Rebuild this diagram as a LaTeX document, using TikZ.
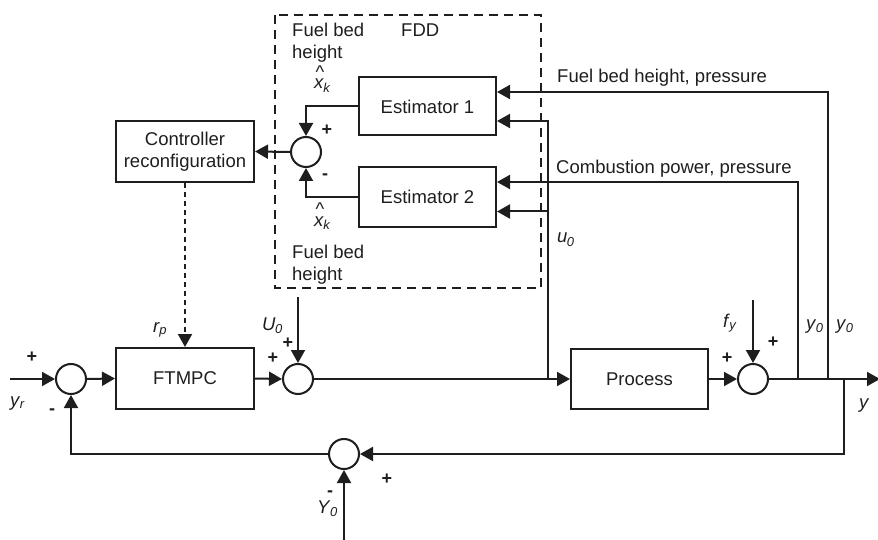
\documentclass[tikz,border=0pt]{standalone}
\usepackage{fontspec}
\setmainfont{Liberation Sans}
\usetikzlibrary{arrows.meta,calc,backgrounds}
\definecolor{loopink}{HTML}{1E1E1E}
\newcommand{\sig}[2]{\textit{#1}\textsubscript{\kern-0.5pt\textit{#2}}}
\newcommand{\xhat}{\rlap{\kern1.5pt\raisebox{10pt}{\^{}}}\sig{x}{k}}
\tikzset{
  loop block/.style={
    rectangle, draw=loopink, text=loopink, line width=2pt,
    minimum width=137pt, minimum height=60pt,
    font=\fontsize{18.5}{22}\selectfont, align=center
  },
  loop sum/.style={
    circle, draw=loopink, line width=2pt, fill=white,
    minimum size=30pt, inner sep=0pt
  },
  loop line/.style={draw=loopink, line width=2pt},
  loop arrow/.style={loop line, -{Triangle[length=13pt,width=14pt]}},
  loop label/.style={
    text=loopink, font=\fontsize{18.5}{22}\selectfont,
    align=left, inner sep=0pt, anchor=base west
  },
  loop sign/.style={text=loopink, font=\fontsize{18}{20}\selectfont\bfseries, inner sep=0pt}
}
\begin{document}
\begin{tikzpicture}[x=1pt,y=-1pt]
  \useasboundingbox (0,0) rectangle (878,540);

  % fault detection and diagnosis part
  \draw[loop line, dash pattern=on 9pt off 6pt] (275,15) rectangle (541,288);
  \node[loop block] (est1) at (427.5,106.5) [minimum height=58pt] {Estimator 1};
  \node[loop block] (est2) at (427.5,197) {Estimator 2};
  \node[loop sum] (fddsum) at (306,152) {};
  \node[loop block,minimum width=138pt,minimum height=61pt] (ctrl) at (185,151.5) {Controller\\reconfiguration};

  % main loop
  \node[loop block,minimum width=138pt,minimum height=61pt] (ftmpc) at (185,378.5) {FTMPC};
  \node[loop block] (process) at (639.5,379) {Process};
  \node[loop sum] (sref) at (71,379) {};
  \node[loop sum] (sbias) at (298,379) {};
  \node[loop sum] (sfault) at (753,379) {};
  \node[loop sum] (sout) at (344,454) {};

  \coordinate (yin) at (10,379);
  \coordinate (utop) at (298,297);
  \coordinate (ftop) at (753,300);
  \coordinate (ybot) at (344,540);
  \coordinate (yend) at (880,379);
  \coordinate (usplit) at (548,379);
  \coordinate (umid) at (548,211.5);
  \coordinate (tapcomb) at (798,379);
  \coordinate (tapfuel) at (828,379);
  \coordinate (tapback) at (844,379);

  \draw[loop arrow] (yin) -- (sref.west);
  \draw[loop arrow] (sref.east) -- (ftmpc.west);
  \draw[loop arrow] (ftmpc.east) -- (sbias.west);
  \draw[loop arrow] (utop) -- (sbias.north);
  \draw[loop arrow] (sbias.east) -- (process.west);
  \draw[loop arrow] (process.east) -- (sfault.west);
  \draw[loop arrow] (ftop) -- (sfault.north);
  \draw[loop arrow] (sfault.east) -- (yend);

  % measurements back to the estimators
  \draw[loop arrow] (tapfuel) |- ([yshift=14.5pt]est1.east);
  \draw[loop arrow] (tapcomb) |- ([yshift=15pt]est2.east);
  \draw[loop arrow] (usplit) |- ([yshift=-14.5pt]est1.east);
  \draw[loop arrow] (umid) -- ([yshift=-14.5pt]est2.east);

  \draw[loop arrow] (est1.west) -| (fddsum.north);
  \draw[loop arrow] (est2.west) -| (fddsum.south);
  \draw[loop arrow] (fddsum.west) -- (ctrl.east);
  \draw[loop arrow, dash pattern=on 5pt off 4pt] (ctrl.south) -- (ftmpc.north);

  % output feedback
  \draw[loop arrow] (tapback) |- (sout.east);
  \draw[loop arrow] (ybot) -- (sout.south);
  \draw[loop arrow] (sout.west) -| (sref.south);

  % labels
  \node[loop label] at (292,59) {Fuel bed\\height};
  \node[loop label] at (401,37) {FDD};
  \node[loop label] at (314,89) {\xhat};
  \node[loop label] at (314,226) {\xhat};
  \node[loop label] at (292,280) {Fuel bed\\height};
  \node[loop label] at (557,83) {Fuel bed height, pressure};
  \node[loop label] at (556,174) {Combustion power, pressure};
  \node[loop label] at (557,243) {\sig{u}{0}};
  \node[loop label] at (153,332) {\sig{r}{p}};
  \node[loop label] at (262,330) {\sig{U}{0}};
  \node[loop label] at (10,406) {\sig{y}{r}};
  \node[loop label] at (317,513) {\sig{Y}{0}};
  \node[loop label] at (723,327) {\sig{f}{y}};
  \node[loop label] at (806,329) {\sig{y}{0}};
  \node[loop label] at (836,329) {\sig{y}{0}};
  \node[loop label] at (859,408) {\textit{y}};

  \node[loop sign] at (327,130) {+};
  \node[loop sign] at (325,177) {-};
  \node[loop sign] at (32,357) {+};
  \node[loop sign] at (52,412) {-};
  \node[loop sign] at (288,343) {+};
  \node[loop sign] at (273,358) {+};
  \node[loop sign] at (387,479) {+};
  \node[loop sign] at (330,494) {-};
  \node[loop sign] at (773,342) {+};
  \node[loop sign] at (727,358) {+};
\end{tikzpicture}
\end{document}
